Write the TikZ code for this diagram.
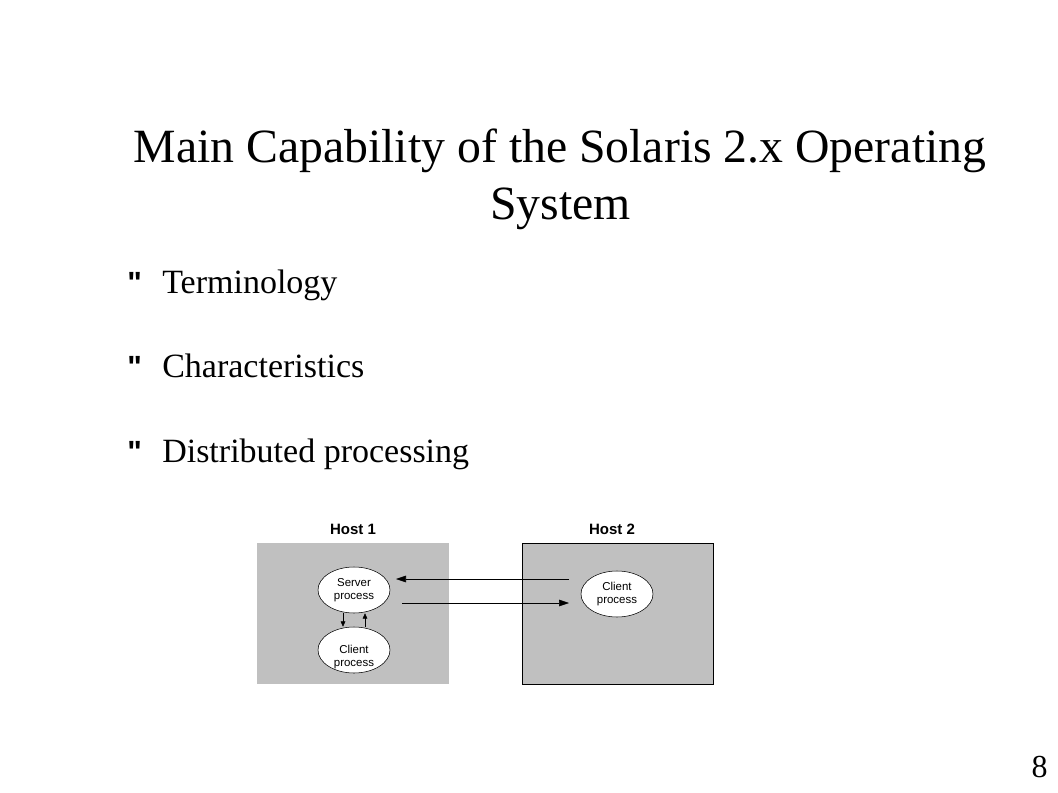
\documentclass[tikz,border=0pt]{standalone}
\usepackage{fontspec}
\setmainfont{Liberation Serif}
\newfontfamily\diagfont{Liberation Sans}
\newfontfamily\quotefont[Ligatures=ResetAll]{Liberation Sans}
\usetikzlibrary{arrows.meta, shapes.geometric, positioning}
\definecolor{hostgray}{RGB}{192,192,192}

\begin{document}
\begin{tikzpicture}[x=0.75pt, y=-0.75pt,
		hostbox/.style={rectangle, fill=hostgray, inner sep=0, minimum width=143.5pt, minimum height=106pt},
		proc/.style={ellipse, draw, fill=white, inner sep=0, minimum width=54pt, minimum height=34.5pt,
			align=center, font=\diagfont\fontsize{8.6}{9.4}\selectfont},
		proctext/.style={align=center, inner sep=0, font=\diagfont\fontsize{8.6}{9.4}\selectfont},
		hostlabel/.style={anchor=base, font=\diagfont\bfseries\fontsize{11.25}{13}\selectfont},
		bullet/.style={anchor=base west, inner sep=0, font=\fontsize{25.5}{30}\selectfont},
		mark sign/.style={anchor=base west, inner sep=0, font=\quotefont\bfseries\fontsize{23}{26}\selectfont},
		flow/.style={-{Triangle[length=7.5pt, width=5pt]}},
		tip/.style={-{Triangle[length=4pt, width=3.5pt]}}]
	\useasboundingbox (0,0) rectangle (1058,793);

	% heading
	\node[anchor=base, font=\fontsize{35.8}{40}\selectfont] (title1) at (560,162) {Main Capability of the Solaris 2.x Operating};
	\node[anchor=base, font=\fontsize{35.8}{40}\selectfont] (title2) at (560.5,219) {System};

	% bullets
	\node[mark sign] (q1) at (127,293) {\symbol{34}};
	\node[bullet] (b1) at (162,293) {Terminology};
	\node[mark sign] (q2) at (127,377) {\symbol{34}};
	\node[bullet] (b2) at (162,377) {Characteristics};
	\node[mark sign] (q3) at (127,462) {\symbol{34}};
	\node[bullet] (b3) at (162,462) {Distributed processing};

	% hosts
	\node[hostbox] (host1) at (353,613.5) {};
	\node[hostbox, draw] (host2) at (617.5,614) {};
	\node[hostlabel] (h1) at (353,534) {Host 1};
	\node[hostlabel] (h2) at (612,534) {Host 2};

	% processes
	\node[proc] (server) at (354,590) {Server\\process};
	\node[proc] (client1) at (354,650) {};
	\node[proctext] (client1txt) at (354,657) {Client\\process};
	\node[proc] (client2) at (617,594) {Client\\process};

	% messages
	\coordinate (req) at (569,579);
	\coordinate (reqend) at (396,579);
	\coordinate (rep) at (402,603);
	\coordinate (repend) at (569,603);
	\draw[flow] (req) -- (reqend);
	\draw[flow] (rep) -- (repend);

	\draw[tip] ([xshift=-8.25pt]server.south) -- ([xshift=-8.25pt]client1.north);
	\draw[tip] ([xshift=8.25pt]client1.north) -- ([xshift=8.25pt]server.south);

	% page number
	\node[anchor=base, font=\fontsize{24}{28}\selectfont] (page) at (1039.5,777) {8};
\end{tikzpicture}
\end{document}
